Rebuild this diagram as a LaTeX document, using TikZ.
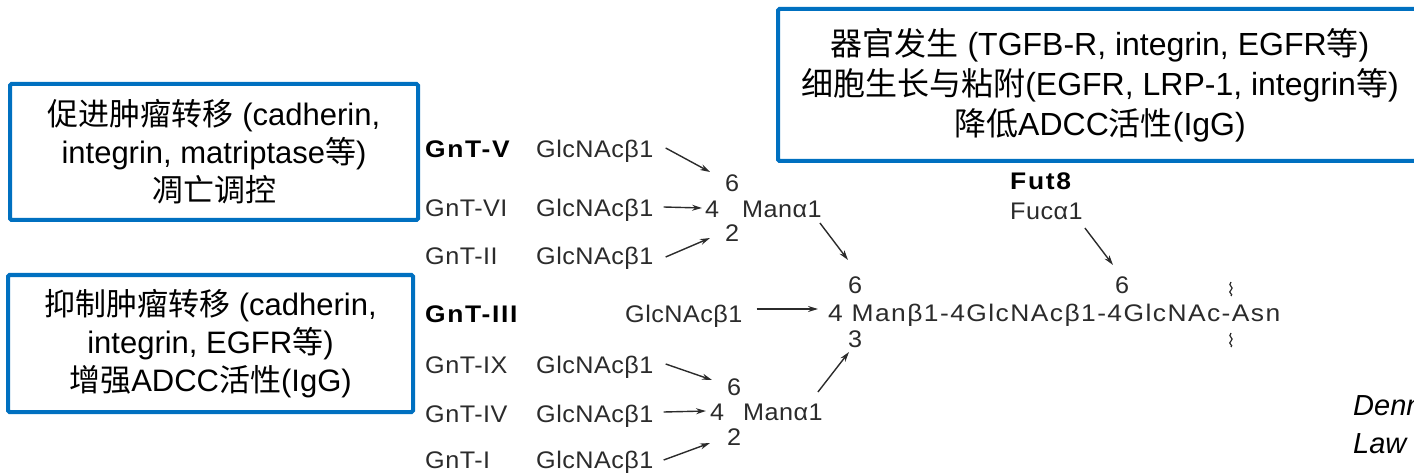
\documentclass[tikz,border=0pt]{standalone}
\usepackage{fontspec}
\setmainfont{Liberation Sans}
\newfontfamily\cjk{Noto Sans CJK SC}
\newfontfamily\chem[FakeStretch=1.05,LetterSpace=2]{Liberation Sans}
\newfontfamily\chemwide[FakeStretch=1.1,LetterSpace=6]{Liberation Sans}
\newfontfamily\chemb[FakeStretch=1.1,LetterSpace=7]{Liberation Sans Bold}
\usetikzlibrary{arrows.meta}
\definecolor{boxblue}{HTML}{0070C0}
\definecolor{ink}{HTML}{2B2B2B}
\newcommand{\zh}[1]{{\cjk #1}}
\tikzset{
  infobox/.style={draw=boxblue, line width=4pt, rounded corners=1.5pt, fill=white,
    inner sep=0pt, align=center, text=black,
    font=\fontsize{31}{38}\selectfont},
  chemtxt/.style={inner sep=0pt, anchor=base west, text=ink, font=\fontsize{24}{26}\chem},
  chemlong/.style={inner sep=0pt, anchor=base west, text=ink, font=\fontsize{24}{26}\chemwide},
  chembold/.style={inner sep=0pt, anchor=base west, text=black, font=\fontsize{24}{26}\chemb},
  arr/.style={draw=ink, line width=1.4pt, -{Stealth[length=10pt,width=6pt]}},
  cite/.style={inner sep=0pt, anchor=base west, font=\fontsize{29}{34}\selectfont\itshape}
}
\begin{document}
\begin{tikzpicture}[x=1pt,y=-1pt]
\useasboundingbox (0,0) rectangle (1414,473);
% info boxes
\node[infobox, minimum width=408pt, minimum height=136pt] (boxA) at (214,152)
  {\zh{促进肿瘤转移} (cadherin,\\ integrin, matriptase\zh{等})\\ \zh{凋亡调控}};
\node[infobox, minimum width=405pt, minimum height=137pt] (boxB) at (210.5,343.5)
  {\zh{抑制肿瘤转移} (cadherin,\\ integrin, EGFR\zh{等})\\ \zh{增强}ADCC\zh{活性}(IgG)};
\node[infobox, minimum width=644pt, minimum height=152pt, font=\fontsize{32}{40}\selectfont] (boxC) at (1100,85)
  {\zh{器官发生} (TGFB-R, integrin, EGFR\zh{等})\\ \zh{细胞生长与粘附}(EGFR, LRP-1, integrin\zh{等})\\ \zh{降低}ADCC\zh{活性}(IgG)};
% enzyme labels
\node[chembold] (e5) at (425,158) {GnT-V};
\node[chemtxt] (e6) at (425,217) {GnT-VI};
\node[chemtxt] (e2) at (425,265) {GnT-II};
\node[chembold] (e3) at (425,322) {GnT-III};
\node[chemtxt] (e9) at (425,373) {GnT-IX};
\node[chemtxt] (e4) at (425,422) {GnT-IV};
\node[chemtxt] (e1) at (425,468) {GnT-I};
% GlcNAc residues
\node[chemtxt] (g5) at (536,158) {GlcNAcβ1};
\node[chemtxt] (g6) at (536,217) {GlcNAcβ1};
\node[chemtxt] (g2) at (536,265) {GlcNAcβ1};
\node[chemtxt] (g3) at (625,322) {GlcNAcβ1};
\node[chemtxt] (g9) at (536,373) {GlcNAcβ1};
\node[chemtxt] (g4) at (536,422) {GlcNAcβ1};
\node[chemtxt] (g1) at (536,468) {GlcNAcβ1};
% upper mannose
\node[chemtxt] (u6) at (725,192) {6};
\node[chemtxt] (u4) at (705,218) {4};
\node[chemtxt] (um) at (742,218) {Manα1};
\node[chemtxt] (u2) at (725,242) {2};
% lower mannose
\node[chemtxt] (l6) at (727,395) {6};
\node[chemtxt] (l4) at (710,420) {4};
\node[chemtxt] (lm) at (743,420) {Manα1};
\node[chemtxt] (l2) at (727,445) {2};
% core
\node[chemtxt] (c6) at (848,293) {6};
\node[chemlong] (core) at (828,321) {4 Manβ1-4GlcNAcβ1-4GlcNAc-Asn};
\node[chemtxt] (c3) at (848,347) {3};
% fucose
\node[chembold] (fut) at (1010,190) {Fut8};
\node[chemtxt] (fuc) at (1010,220) {Fucα1};
\node[chemtxt] (f6) at (1115,293) {6};
% wavy marks
\coordinate (w1) at (1231,282);
\coordinate (w2) at (1231,333);
\foreach \w in {w1,w2}
  \draw[ink, line width=1.2pt] (\w) .. controls ([shift={(-4,4)}]\w) and ([shift={(4,5)}]\w) .. ([shift={(0,8)}]\w)
     .. controls ([shift={(-4,11)}]\w) and ([shift={(3,12)}]\w) .. ([shift={(0,14)}]\w);
% arrows
\draw[arr] ([xshift=12pt,yshift=10pt]g5.base east) -- ([xshift=-15pt,yshift=20pt]u6.base west);
\draw[arr] ([xshift=10pt,yshift=10pt]g6.base east) -- ([xshift=-3pt,yshift=10pt]u4.base west);
\draw[arr] ([xshift=12pt,yshift=8pt]g2.base east) -- ([xshift=-15pt,yshift=4pt]u2.base west);
\draw[arr] ([xshift=-2pt,yshift=-5pt]um.base east) -- ([xshift=0pt,yshift=33pt]c6.base west);
\draw[arr] ([xshift=14pt,yshift=13pt]g3.base east) -- ([xshift=-10pt,yshift=12pt]core.base west);
\draw[arr] ([xshift=2pt,yshift=-8pt]fuc.base east) -- ([xshift=-2pt,yshift=28pt]f6.base west);
\draw[arr] ([xshift=12pt,yshift=9pt]g9.base east) -- ([xshift=-15pt,yshift=15pt]l6.base west);
\draw[arr] ([xshift=10pt,yshift=10pt]g4.base east) -- ([xshift=-4pt,yshift=9pt]l4.base west);
\draw[arr] ([xshift=10pt,yshift=8pt]g1.base east) -- ([xshift=-17pt,yshift=2pt]l2.base west);
\draw[arr] ([xshift=-5pt,yshift=28pt]lm.base east) -- ([xshift=1pt,yshift=-5pt]c3.base west);
% citation (cut off at the edge, as in the reference)
\node[cite] (cit1) at (1353,415) {Denn};
\node[cite] (cit2) at (1353,453) {Law};
\end{tikzpicture}
\end{document}
